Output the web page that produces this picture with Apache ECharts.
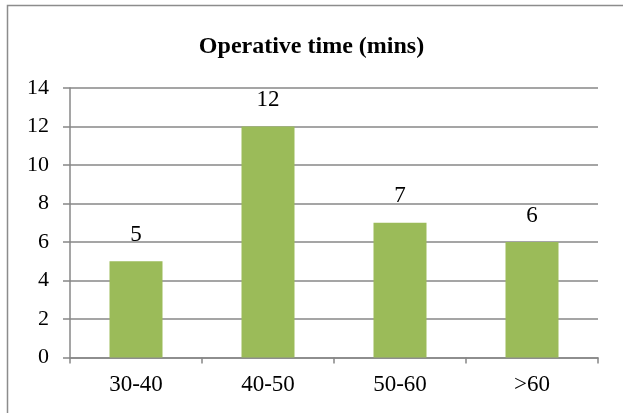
<!DOCTYPE html>
<html>
<head>
<meta charset="utf-8">
<script src="https://cdn.jsdelivr.net/npm/echarts@6/dist/echarts.min.js"></script>
<style>
  html, body { margin: 0; padding: 0; background: #fff; }
  #chart { width: 623px; height: 413px; }
</style>
</head>
<body>
<div id="chart"></div>
<script>
// Operative time distribution
const categories = ['30-40', '40-50', '50-60', '>60'];
const counts = [5, 12, 7, 6];
const yTicks = { min: 0, max: 14, interval: 2 };

const serif = '"Liberation Serif", "Times New Roman", serif';
const axisGray = '#878787';

const chart = echarts.init(document.getElementById('chart'), null, { renderer: 'canvas' });
chart.setOption({
  animation: false,
  backgroundColor: '#ffffff',
  title: {
    text: 'Operative time (mins)',
    left: 'center',
    top: 30,
    textStyle: { fontFamily: serif, fontSize: 24, fontWeight: 'bold', color: '#000' }
  },
  graphic: [{
    type: 'rect',
    shape: { x: 7.5, y: 5.5, width: 700, height: 500 },
    style: { fill: 'none', stroke: '#8c8c8c', lineWidth: 1.5 },
    silent: true
  }],
  grid: { left: 70, right: 25, top: 88, bottom: 55.5 },
  xAxis: {
    type: 'category',
    data: categories,
    axisLine: { lineStyle: { color: axisGray, width: 1.5 } },
    axisTick: { show: true, length: 6, lineStyle: { color: axisGray, width: 1.5 } },
    axisLabel: { fontFamily: serif, fontSize: 23, color: '#000', margin: 16 }
  },
  yAxis: {
    type: 'value',
    min: yTicks.min,
    max: yTicks.max,
    interval: yTicks.interval,
    axisLine: { show: true, lineStyle: { color: axisGray, width: 1.5 } },
    axisTick: { show: true, length: 7, lineStyle: { color: axisGray, width: 1.5 } },
    splitLine: { show: true, lineStyle: { color: axisGray, width: 1.5 } },
    axisLabel: { fontFamily: serif, fontSize: 22, color: '#000', margin: 21 }
  },
  series: [{
    type: 'bar',
    data: counts,
    barWidth: 53,
    itemStyle: { color: '#9bbb59' },
    label: {
      show: true,
      position: 'top',
      distance: 15,
      fontFamily: serif,
      fontSize: 23,
      color: '#000'
    }
  }]
});
</script>
</body>
</html>
